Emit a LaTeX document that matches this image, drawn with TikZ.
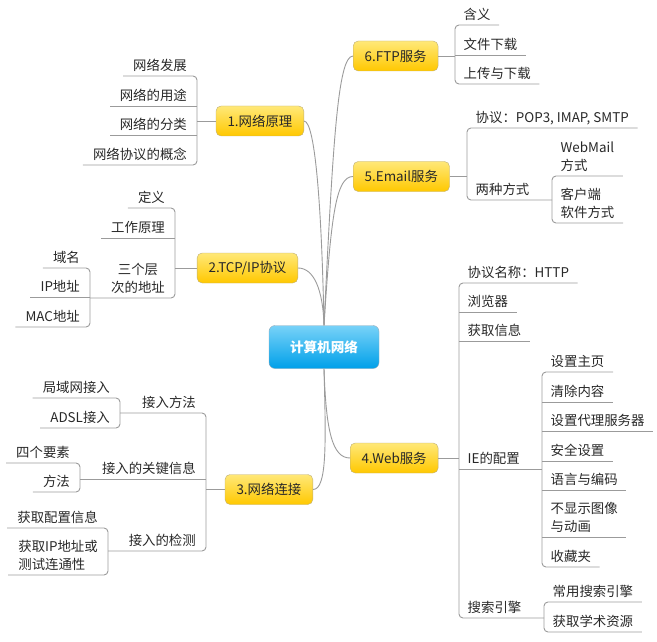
\documentclass[tikz,border=0pt]{standalone}
\usepackage{fontspec}
\setmainfont{Noto Sans CJK SC}
\definecolor{linkc}{RGB}{155,155,155}
\definecolor{txt}{RGB}{40,40,40}
\definecolor{rootT}{RGB}{120,210,248}
\definecolor{rootB}{RGB}{0,160,233}
\definecolor{rootb}{RGB}{150,170,185}
\definecolor{mainT}{RGB}{255,232,120}
\definecolor{mainB}{RGB}{255,200,0}
\definecolor{mainb}{RGB}{190,175,120}
\begin{document}
\begin{tikzpicture}[x=1pt,y=-1pt,
  every node/.style={font=\fontsize{13.4}{18.5}\selectfont, text=txt},
  link/.style={draw=linkc, line width=0.9pt},
  brk/.style={link, rounded corners=4pt},
  root/.style={rounded corners=6pt, draw=rootb, top color=rootT, bottom color=rootB, text=white,
    font=\fontsize{13.6}{16}\selectfont\bfseries, minimum width=110pt, minimum height=43pt},
  main/.style={rounded corners=5pt, draw=mainb, top color=mainT, bottom color=mainB,
    minimum height=30pt, inner xsep=11.5pt},
  rleaf/.style={anchor=south west, inner xsep=8.5pt, inner ysep=3pt, text depth=2pt, align=left},
  lleaf/.style={anchor=south east, inner xsep=10pt, inner ysep=3pt, text depth=2pt, align=left}]
\useasboundingbox (0,0) rectangle (657,642);

% root and main topics
\node[root] (root) at (324,347) {计算机网络};
\node[main, anchor=west] (ftp) at (353,56) {6.FTP服务};
\node[main, anchor=west] (email) at (353,176.5) {5.Email服务};
\node[main, anchor=west] (web) at (350,458) {4.Web服务};
\node[main, anchor=east] (p1) at (304,121) {1.网络原理};
\node[main, anchor=east] (p2) at (298,268) {2.TCP/IP协议};
\node[main, anchor=east] (p3) at (313,489.5) {3.网络连接};

% curves from root
\draw[link] (root.north) .. controls (333,140) and (338,56) .. (ftp.west);
\draw[link] (root.north) .. controls (331,215) and (336,176.5) .. (email.west);
\draw[link] (root.north) .. controls (322,220) and (316,121) .. (p1.east);
\draw[link] (root.north) .. controls (323,290) and (314,268) .. (p2.east);
\draw[link] (root.south) .. controls (326,430) and (332,458) .. (web.west);
\draw[link] (root.south) .. controls (326,445) and (327,489.5) .. (p3.east);

% FTP
\node[rleaf] (f1) at (455,25) {含义};
\node[rleaf] (f2) at (455,55) {文件下载};
\node[rleaf] (f3) at (455,84) {上传与下载};
\draw[link] (ftp.east) -- (ftp.east -| f1.south west);
\draw[brk] (f1.south east) -- (f1.south west) -- (f3.south west) -- (f3.south east);
\draw[link] (f2.south west) -- (f2.south east);

% Email
\node[rleaf] (e1) at (467,128) {协议：POP3, IMAP, SMTP};
\node[rleaf] (e2) at (467,200) {两种方式};
\node[rleaf] (e21) at (552,176) {WebMail\\方式};
\node[rleaf] (e22) at (552,223) {客户端\\软件方式};
\draw[link] (email.east) -- (email.east -| e1.south west);
\draw[brk] (e1.south east) -- (e1.south west) -- (e2.south west) -- (e21.south west |- e2.south);
\draw[brk] (e21.south east) -- (e21.south west) -- (e22.south west) -- (e22.south east);

% Web
\node[rleaf] (w1) at (459,283) {协议名称：HTTP};
\node[rleaf] (w2) at (459,312) {浏览器};
\node[rleaf] (w3) at (459,341) {获取信息};
\node[rleaf] (w4) at (459,469) {IE的配置};
\node[rleaf] (w5) at (459,618) {搜索引擎};
\node[rleaf] (w41) at (542,372) {设置主页};
\node[rleaf] (w42) at (542,402) {清除内容};
\node[rleaf] (w43) at (542,431) {设置代理服务器};
\node[rleaf] (w44) at (542,461) {安全设置};
\node[rleaf] (w45) at (542,490) {语言与编码};
\node[rleaf] (w46) at (542,537) {不显示图像\\与动画};
\node[rleaf] (w47) at (542,567) {收藏夹};
\node[rleaf] (w51) at (544,602) {常用搜索引擎};
\node[rleaf] (w52) at (544,632) {获取学术资源};
\draw[link] (web.east) -- (web.east -| w1.south west);
\draw[brk] (w1.south east) -- (w1.south west) -- (w5.south west) -- (w51.south west |- w5.south);
\draw[link] (w2.south west) -- (w2.south east);
\draw[link] (w3.south west) -- (w3.south east);
\draw[link] (w4.south west) -- (w41.south west |- w4.south);
\draw[brk] (w41.south east) -- (w41.south west) -- (w47.south west) -- (w47.south east);
\foreach \n in {w42,w43,w44,w45,w46} \draw[link] (\n.south west) -- (\n.south east);
\draw[brk] (w51.south east) -- (w51.south west) -- (w52.south west) -- (w52.south east);

% 1 网络原理
\node[lleaf] (a1) at (197,76) {网络发展};
\node[lleaf] (a2) at (197,106) {网络的用途};
\node[lleaf] (a3) at (197,135) {网络的分类};
\node[lleaf] (a4) at (197,165) {网络协议的概念};
\draw[link] (p1.west) -- (p1.west -| a1.south east);
\draw[brk] (a1.south west) -- (a1.south east) -- (a4.south east) -- (a4.south west);
\draw[link] (a2.south east) -- (a2.south west);
\draw[link] (a3.south east) -- (a3.south west);

% 2 TCP/IP
\node[lleaf] (b1) at (175,208) {定义};
\node[lleaf] (b2) at (175,238) {工作原理};
\node[lleaf, align=center] (b3) at (175,298) {三个层\\次的地址};
\node[lleaf] (b31) at (90,268) {域名};
\node[lleaf] (b32) at (90,297) {IP地址};
\node[lleaf] (b33) at (90,327) {MAC地址};
\draw[link] (p2.west) -- (p2.west -| b1.south east);
\draw[brk] (b1.south west) -- (b1.south east) -- (b3.south east) -- (b31.south east |- b3.south);
\draw[link] (b2.south east) -- (b2.south west);
\draw[brk] (b31.south west) -- (b31.south east) -- (b33.south east) -- (b33.south west);
\draw[link] (b32.south east) -- (b32.south west);

% 3 网络连接
\node[lleaf] (c1) at (206,413) {接入方法};
\node[lleaf] (c2) at (206,479) {接入的关键信息};
\node[lleaf] (c3) at (206,551) {接入的检测};
\node[lleaf] (c11) at (120,398) {局域网接入};
\node[lleaf] (c12) at (120,428) {ADSL接入};
\node[lleaf] (c21) at (80,463) {四个要素};
\node[lleaf] (c22) at (80,492) {方法};
\node[lleaf] (c31) at (108,528) {获取配置信息};
\node[lleaf] (c32) at (108,575) {获取IP地址或\\测试连通性};
\draw[link] (p3.west) -- (p3.west -| c1.south east);
\draw[brk] (c1.south west -| c11.south east) -- (c1.south east) -- (c3.south east) -- (c31.south east |- c3.south);
\draw[link] (c2.south east) -- (c21.south east |- c2.south);
\draw[brk] (c11.south west) -- (c11.south east) -- (c12.south east) -- (c12.south west);
\draw[brk] (c21.south west) -- (c21.south east) -- (c22.south east) -- (c22.south west);
\draw[brk] (c31.south west) -- (c31.south east) -- (c32.south east) -- (c32.south west);
\end{tikzpicture}
\end{document}
